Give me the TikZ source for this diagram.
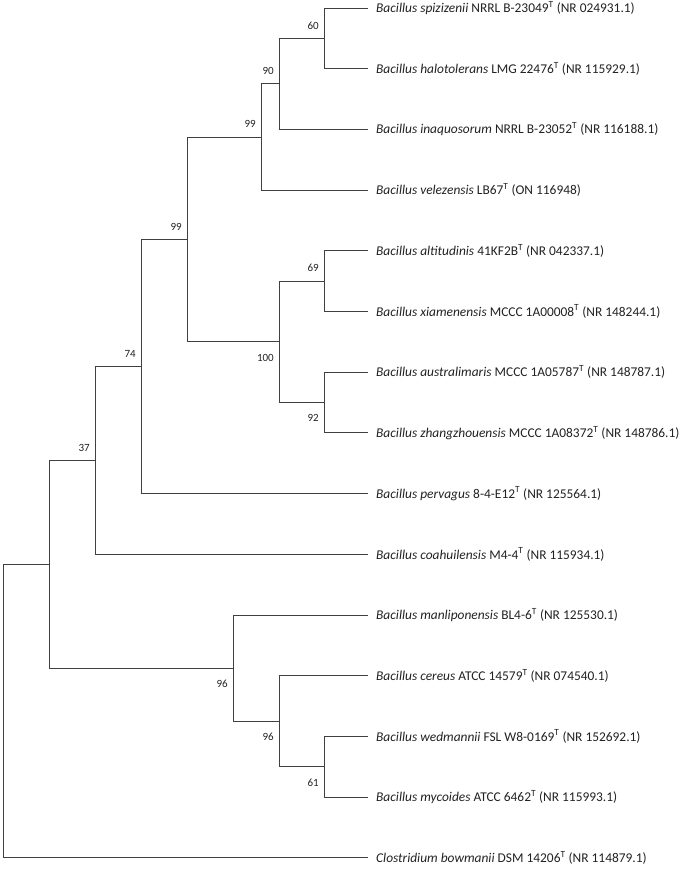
\documentclass[tikz,border=0pt]{standalone}
\usepackage{fontspec}
\setmainfont{Carlito}
\usetikzlibrary{positioning}
\definecolor{branchc}{HTML}{404040}
\definecolor{textc}{HTML}{222222}
\tikzset{
  branch/.style={draw=branchc, line width=0.9pt},
  taxon/.style={anchor=west, inner sep=0pt, text=textc, font=\fontsize{13.4}{16}\selectfont},
  boot/.style={inner sep=0pt, text=textc, font=\fontsize{11}{12}\selectfont},
  bsup/.style={boot, anchor=south east, xshift=-5pt, yshift=9pt},
  bsdn/.style={boot, anchor=north east, xshift=-5pt, yshift=-12pt},
}

\begin{document}
\begin{tikzpicture}[x=1pt, y=-1pt]
  \useasboundingbox (0,0) rectangle (685,873);

  % ---------------- taxa ----------------
  \foreach \i/\y/\t in {
    1/8/{\textit{Bacillus spizizenii} NRRL B-23049\textsuperscript{T} (NR 024931.1)},
    2/68.7/{\textit{Bacillus halotolerans} LMG 22476\textsuperscript{T} (NR 115929.1)},
    3/129.4/{\textit{Bacillus inaquosorum} NRRL B-23052\textsuperscript{T} (NR 116188.1)},
    4/190.1/{\textit{Bacillus velezensis} LB67\textsuperscript{T} (ON 116948)},
    5/250.8/{\textit{Bacillus altitudinis} 41KF2B\textsuperscript{T} (NR 042337.1)},
    6/311.5/{\textit{Bacillus xiamenensis} MCCC 1A00008\textsuperscript{T} (NR 148244.1)},
    7/372.2/{\textit{Bacillus australimaris} MCCC 1A05787\textsuperscript{T} (NR 148787.1)},
    8/432.9/{\textit{Bacillus zhangzhouensis} MCCC 1A08372\textsuperscript{T} (NR 148786.1)},
    9/493.6/{\textit{Bacillus pervagus} 8-4-E12\textsuperscript{T} (NR 125564.1)},
    10/554.3/{\textit{Bacillus coahuilensis} M4-4\textsuperscript{T} (NR 115934.1)},
    11/615/{\textit{Bacillus manliponensis} BL4-6\textsuperscript{T} (NR 125530.1)},
    12/675.7/{\textit{Bacillus cereus} ATCC 14579\textsuperscript{T} (NR 074540.1)},
    13/736.4/{\textit{Bacillus wedmannii} FSL W8-0169\textsuperscript{T} (NR 152692.1)},
    14/797.1/{\textit{Bacillus mycoides} ATCC 6462\textsuperscript{T} (NR 115993.1)},
    15/857.8/{\textit{Clostridium bowmanii} DSM 14206\textsuperscript{T} (NR 114879.1)}}
  {
    \coordinate (l\i) at (368,\y);
    \node[taxon] (t\i) at (376,\y) {\t};
  }

  % ---------------- internal nodes ----------------
  \coordinate (n60) at (324,38.4);
  \coordinate (n90) at (279,83.9);
  \coordinate (n99a) at (261,137);
  \coordinate (n69) at (324,281.2);
  \coordinate (n92) at (324,402.6);
  \coordinate (n100) at (279,341.9);
  \coordinate (n99b) at (187,239.4);
  \coordinate (n74) at (141,366.5);
  \coordinate (n37) at (95,460.4);
  \coordinate (n61) at (324,766.8);
  \coordinate (n96b) at (279,721.2);
  \coordinate (n96a) at (233,668.1);
  \coordinate (nlow) at (49,564.3);
  \coordinate (root) at (3,711);

  % ---------------- branches ----------------
  \draw[branch] (n60) |- (l1) (n60) |- (l2);
  \draw[branch] (n90) |- (n60) (n90) |- (l3);
  \draw[branch] (n99a) |- (n90) (n99a) |- (l4);
  \draw[branch] (n69) |- (l5) (n69) |- (l6);
  \draw[branch] (n92) |- (l7) (n92) |- (l8);
  \draw[branch] (n100) |- (n69) (n100) |- (n92);
  \draw[branch] (n99b) |- (n99a) (n99b) |- (n100);
  \draw[branch] (n74) |- (n99b) (n74) |- (l9);
  \draw[branch] (n37) |- (n74) (n37) |- (l10);
  \draw[branch] (n61) |- (l13) (n61) |- (l14);
  \draw[branch] (n96b) |- (l12) (n96b) |- (n61);
  \draw[branch] (n96a) |- (l11) (n96a) |- (n96b);
  \draw[branch] (nlow) |- (n37) (nlow) |- (n96a);
  \draw[branch] (root) |- (nlow) (root) |- (l15);

  % ---------------- bootstrap values ----------------
  \node[bsup] (b60) at (n60) {60};
  \node[bsup] (b90) at (n90) {90};
  \node[bsup] (b99a) at (n99a) {99};
  \node[bsup] (b69) at (n69) {69};
  \node[bsdn] (b92) at (n92) {92};
  \node[bsdn] (b100) at (n100) {100};
  \node[bsup] (b99b) at (n99b) {99};
  \node[bsup] (b74) at (n74) {74};
  \node[bsup] (b37) at (n37) {37};
  \node[bsdn] (b61) at (n61) {61};
  \node[bsdn] (b96b) at (n96b) {96};
  \node[bsdn] (b96a) at (n96a) {96};
\end{tikzpicture}
\end{document}
